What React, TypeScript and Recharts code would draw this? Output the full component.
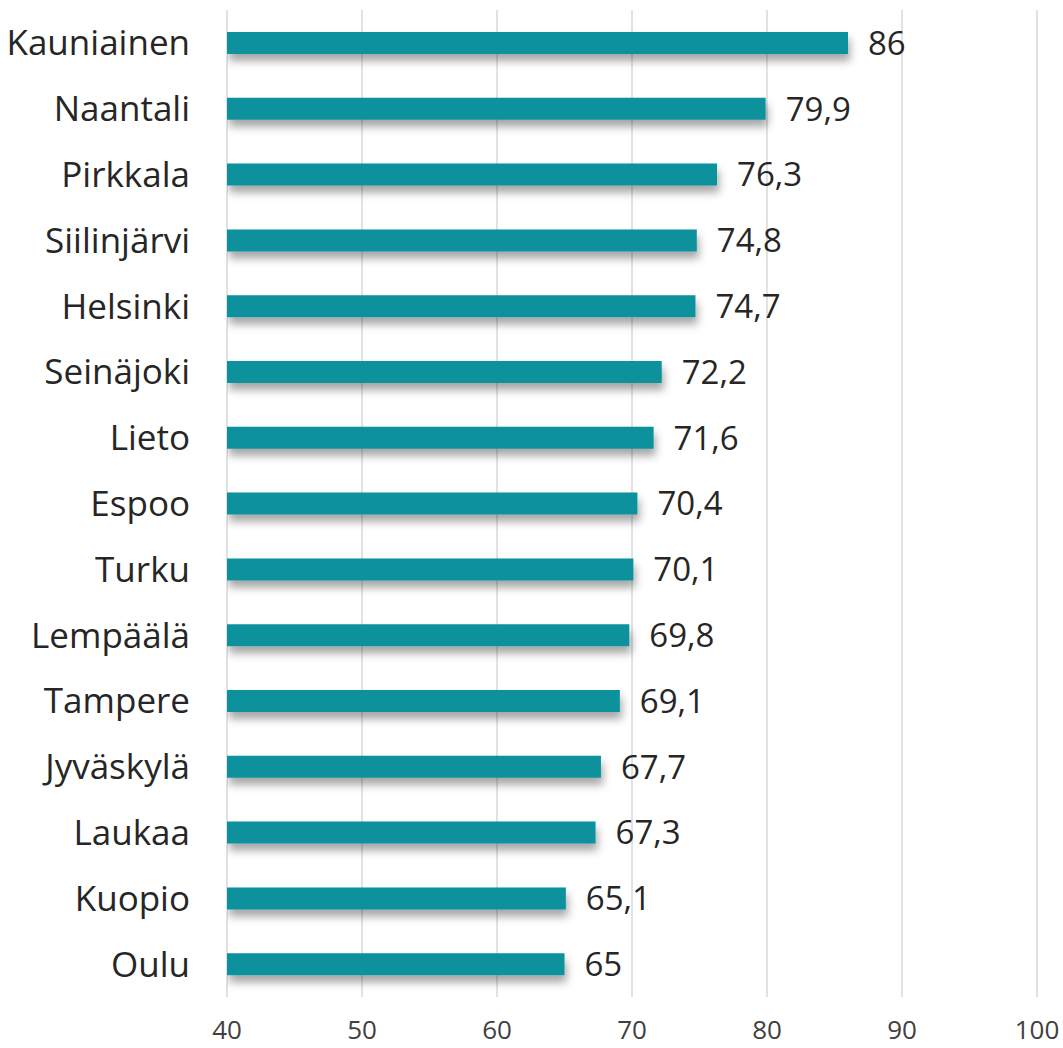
import { Bar, BarChart, CartesianGrid, LabelList, XAxis, YAxis } from "recharts";

// kunnat ylhäältä alas
const municipalities = [
	"Kauniainen",
	"Naantali",
	"Pirkkala",
	"Siilinjärvi",
	"Helsinki",
	"Seinäjoki",
	"Lieto",
	"Espoo",
	"Turku",
	"Lempäälä",
	"Tampere",
	"Jyväskylä",
	"Laukaa",
	"Kuopio",
	"Oulu",
];
const values = [86, 79.9, 76.3, 74.8, 74.7, 72.2, 71.6, 70.4, 70.1, 69.8, 69.1, 67.7, 67.3, 65.1, 65];
const xTicks = [40, 50, 60, 70, 80, 90, 100];

const data = municipalities.map((name, i) => ({ name, value: values[i] }));

const FONT = "'Open Sans', 'DejaVu Sans', sans-serif";
const BAR_COLOR = "#0A919D";

const fmt = (v: number) => String(v).replace(".", ",");

export default function App() {
	return (
		<div style={{ position: "absolute", left: 0, top: 0, background: "#fff" }}>
			<BarChart
				width={1063}
				height={1048}
				data={data}
				layout="vertical"
				margin={{ top: 10, right: 26, bottom: 0, left: 0 }}
				barSize={22}
			>
				<defs>
					<filter id="barShadow" x="-5%" y="-50%" width="110%" height="250%">
						<feDropShadow dx="2" dy="7" stdDeviation="4" floodColor="#000" floodOpacity="0.35" />
					</filter>
				</defs>
				<CartesianGrid horizontal={false} stroke="#d9d9d9" strokeWidth={1.5} />
				<XAxis
					type="number"
					domain={[40, 100]}
					ticks={xTicks}
					allowDataOverflow
					axisLine={false}
					tickLine={false}
					height={51}
					tickMargin={18}
					tick={{ fill: "#404040", fontSize: 26, fontFamily: FONT }}
				/>
				<YAxis
					type="category"
					dataKey="name"
					width={227}
					axisLine={false}
					tickLine={false}
					tickSize={0}
					tickMargin={37}
					interval={0}
					tick={{ fill: "#262626", fontSize: 35, fontFamily: FONT }}
				/>
				<Bar dataKey="value" fill={BAR_COLOR} isAnimationActive={false} filter="url(#barShadow)">
					<LabelList
						dataKey="value"
						position="right"
						offset={20}
						formatter={(v: number) => fmt(v)}
						style={{ fill: "#262626", fontSize: 33, fontFamily: FONT }}
					/>
				</Bar>
			</BarChart>
		</div>
	);
}
